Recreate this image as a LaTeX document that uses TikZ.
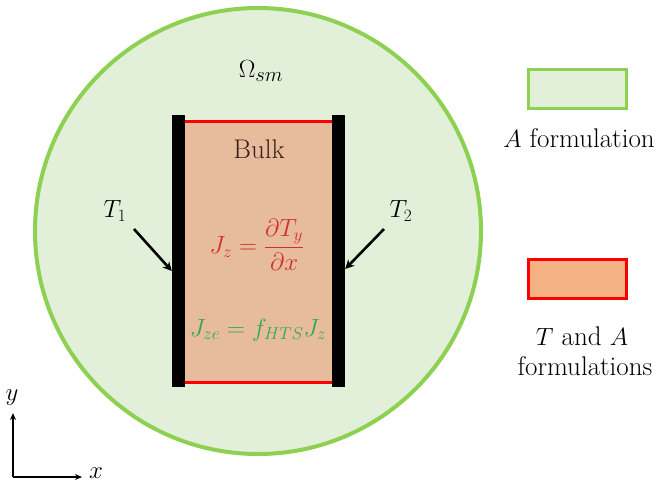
\documentclass[tikz,border=0pt]{standalone}
\usetikzlibrary{arrows.meta}
\definecolor{lgreen}{HTML}{E2F0D9}
\definecolor{bgreen}{HTML}{8ED052}
\definecolor{bulkfill}{HTML}{E6BC9C}
\definecolor{legorange}{HTML}{F4B183}
\definecolor{eqred}{HTML}{D32F2F}
\definecolor{eqgreen}{HTML}{33A852}
\definecolor{bulktext}{HTML}{3A1F1A}
\tikzset{
  lbl/.style={inner sep=0pt, font=\fontsize{27}{28}\selectfont},
  mlbl/.style={inner sep=0pt, font=\fontsize{24}{28}\selectfont},
  ptr/.style={line width=2.6pt, -{Stealth[length=9pt,width=9pt]}},
  axis/.style={line width=1.6pt, -{Stealth[length=7pt,width=6pt]}},
}
\begin{document}
\begin{tikzpicture}[x=1pt,y=-1pt]
\useasboundingbox[fill=white] (0,0) rectangle (664,488);
% domain
\node[circle, draw=bgreen, fill=lgreen, line width=4pt, minimum size=446pt, inner sep=0pt] (dom) at (258,231) {};
\node[mlbl, font=\fontsize{30}{32}\selectfont] (omega) at (261,71) {$\Omega_{sm}$};
% bulk
\path[fill=bulkfill] (185,121) rectangle (332,383);
\coordinate (tl) at (185,121.5);
\coordinate (tr) at (332,121.5);
\coordinate (bl) at (185,382.5);
\coordinate (br) at (332,382.5);
\draw[red, line width=3pt] (tl) -- (tr);
\draw[red, line width=3pt] (bl) -- (br);
\node[fill=black, minimum width=13pt, minimum height=272pt, inner sep=0pt] (barL) at (178.5,251) {};
\node[fill=black, minimum width=13pt, minimum height=272pt, inner sep=0pt] (barR) at (338.5,251) {};
\node[lbl, text=bulktext] (bulk) at (259,149) {Bulk};
\node[mlbl, text=eqred] (eq1) at (257,245) {$J_z=\displaystyle\frac{\partial T_y}{\partial x}$};
\node[mlbl, text=eqgreen] (eq2) at (258,330) {$J_{ze}=f_{HTS}J_z$};
% T labels
\node[mlbl] (t1) at (115,211) {$T_1$};
\node[mlbl] (t2) at (401,211) {$T_2$};
\coordinate (a1) at (134,229);
\coordinate (a2) at (384,229);
\draw[ptr] (a1) -- (barL.west |- 0,271);
\draw[ptr] (a2) -- (barR.east |- 0,269);
% legend
\node[draw=bgreen, fill=lgreen, line width=3.5pt, minimum width=98pt, minimum height=39pt, inner sep=0pt] (legA) at (577.5,89) {};
\node[lbl] (legAt) at (579,138) {$A$ formulation};
\node[draw=red, fill=legorange, line width=3.5pt, minimum width=98pt, minimum height=39pt, inner sep=0pt] (legT) at (577.5,279) {};
\node[lbl] (legTt) at (582,336) {$T$ and $A$};
\node[lbl] (legTt2) at (585,366) {formulations};
% axes
\coordinate (o) at (13,477);
\coordinate (yend) at (13,413);
\coordinate (xend) at (82,477);
\draw[axis] (o) -- (yend);
\draw[axis] (o) -- (xend);
\node[mlbl] (ylab) at (12,398) {$y$};
\node[mlbl] (xlab) at (96,473) {$x$};
\end{tikzpicture}
\end{document}
